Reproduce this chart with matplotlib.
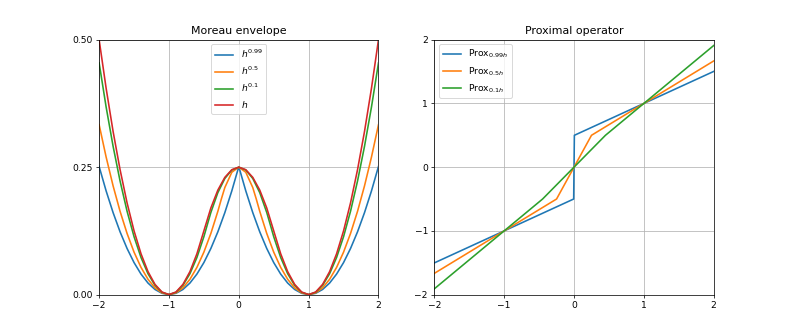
import matplotlib
matplotlib.use("Agg")
import matplotlib.pyplot as plt

# ---- Moreau envelope data ----
x_h = [-2.0, -1.9, -1.8, -1.7, -1.6, -1.5, -1.4, -1.3, -1.2, -1.1, -1.0,
       -0.9, -0.8, -0.7, -0.6, -0.5, -0.4, -0.3, -0.2, -0.1, 0.0,
       0.1, 0.2, 0.3, 0.4, 0.5, 0.6, 0.7, 0.8, 0.9, 1.0,
       1.1, 1.2, 1.3, 1.4, 1.5, 1.6, 1.7, 1.8, 1.9, 2.0]
y_h = [0.5, 0.405, 0.32, 0.245, 0.18, 0.125, 0.08, 0.045, 0.02, 0.005, 0.0,
       0.005, 0.02, 0.045, 0.08, 0.125, 0.17, 0.205, 0.23, 0.245, 0.25,
       0.245, 0.23, 0.205, 0.17, 0.125, 0.08, 0.045, 0.02, 0.005, 0.0,
       0.005, 0.02, 0.045, 0.08, 0.125, 0.18, 0.245, 0.32, 0.405, 0.5]

x_01 = [-2.0, -1.9, -1.8, -1.7, -1.6, -1.5, -1.4, -1.3, -1.2, -1.1, -1.0,
        -0.9, -0.8, -0.7, -0.6, -0.5, -0.45, -0.4, -0.3, -0.2, -0.1, 0.0,
        0.1, 0.2, 0.3, 0.4, 0.45, 0.5, 0.6, 0.7, 0.8, 0.9, 1.0,
        1.1, 1.2, 1.3, 1.4, 1.5, 1.6, 1.7, 1.8, 1.9, 2.0]
y_01 = [0.4545, 0.3682, 0.2909, 0.2227, 0.1636, 0.1136, 0.0727, 0.0409, 0.0182, 0.0045, 0.0,
        0.0045, 0.0182, 0.0409, 0.0727, 0.1136, 0.1375, 0.1611, 0.2, 0.2278, 0.2444, 0.25,
        0.2444, 0.2278, 0.2, 0.1611, 0.1375, 0.1136, 0.0727, 0.0409, 0.0182, 0.0045, 0.0,
        0.0045, 0.0182, 0.0409, 0.0727, 0.1136, 0.1636, 0.2227, 0.2909, 0.3682, 0.4545]

x_05 = [-2.0, -1.9, -1.8, -1.7, -1.6, -1.5, -1.4, -1.3, -1.2, -1.1, -1.0,
        -0.9, -0.8, -0.7, -0.6, -0.5, -0.4, -0.3, -0.25, -0.2, -0.1, 0.0,
        0.1, 0.2, 0.25, 0.3, 0.4, 0.5, 0.6, 0.7, 0.8, 0.9, 1.0,
        1.1, 1.2, 1.3, 1.4, 1.5, 1.6, 1.7, 1.8, 1.9, 2.0]
y_05 = [0.3333, 0.27, 0.2133, 0.1633, 0.12, 0.0833, 0.0533, 0.03, 0.0133, 0.0033, 0.0,
        0.0033, 0.0133, 0.03, 0.0533, 0.0833, 0.12, 0.1633, 0.1875, 0.21, 0.24, 0.25,
        0.24, 0.21, 0.1875, 0.1633, 0.12, 0.0833, 0.0533, 0.03, 0.0133, 0.0033, 0.0,
        0.0033, 0.0133, 0.03, 0.0533, 0.0833, 0.12, 0.1633, 0.2133, 0.27, 0.3333]

x_099 = [-2.0, -1.9, -1.8, -1.7, -1.6, -1.5, -1.4, -1.3, -1.2, -1.1, -1.0,
         -0.9, -0.8, -0.7, -0.6, -0.5, -0.4, -0.3, -0.2, -0.1, -0.005, 0.0,
         0.005, 0.1, 0.2, 0.3, 0.4, 0.5, 0.6, 0.7, 0.8, 0.9, 1.0,
         1.1, 1.2, 1.3, 1.4, 1.5, 1.6, 1.7, 1.8, 1.9, 2.0]
y_099 = [0.2513, 0.2035, 0.1608, 0.1231, 0.0905, 0.0628, 0.0402, 0.0226, 0.01005, 0.0025, 0.0,
         0.0025, 0.01005, 0.0226, 0.0402, 0.0628, 0.0905, 0.1231, 0.1608, 0.2035, 0.24875, 0.25,
         0.24875, 0.2035, 0.1608, 0.1231, 0.0905, 0.0628, 0.0402, 0.0226, 0.01005, 0.0025, 0.0,
         0.0025, 0.01005, 0.0226, 0.0402, 0.0628, 0.0905, 0.1231, 0.1608, 0.2035, 0.2513]

# ---- Proximal operator data (breakpoints) ----
px_099 = [-2.0, -0.005, 0.005, 2.0]
py_099 = [-1.5025, -0.5, 0.5, 1.5025]
px_05 = [-2.0, -0.25, 0.25, 2.0]
py_05 = [-1.6667, -0.5, 0.5, 1.6667]
px_01 = [-2.0, -0.45, 0.45, 2.0]
py_01 = [-1.9091, -0.5, 0.5, 1.9091]

env_ticks_x = [-2, -1, 0, 1, 2]
env_ticks_y = [0.0, 0.25, 0.5]
prox_ticks = [-2, -1, 0, 1, 2]

LW = 1.75

fig, (ax1, ax2) = plt.subplots(1, 2, figsize=(793 / 66, 331 / 66), dpi=66)

ax1.plot(x_099, y_099, lw=LW, label=r"$h^{0.99}$")
ax1.plot(x_05, y_05, lw=LW, label=r"$h^{0.5}$")
ax1.plot(x_01, y_01, lw=LW, label=r"$h^{0.1}$")
ax1.plot(x_h, y_h, lw=LW, label=r"$h$")
ax1.set_xlim(-2, 2)
ax1.set_ylim(0, 0.5)
ax1.set_xticks(env_ticks_x)
ax1.set_yticks(env_ticks_y)
ax1.grid(True)
ax1.legend(loc="upper center")
ax1.set_title("Moreau envelope")

ax2.plot(px_099, py_099, lw=LW, label=r"$\mathrm{Prox}_{0.99h}$")
ax2.plot(px_05, py_05, lw=LW, label=r"$\mathrm{Prox}_{0.5h}$")
ax2.plot(px_01, py_01, lw=LW, label=r"$\mathrm{Prox}_{0.1h}$")
ax2.set_xlim(-2, 2)
ax2.set_ylim(-2, 2)
ax2.set_xticks(prox_ticks)
ax2.set_yticks(prox_ticks)
ax2.grid(True)
ax2.legend(loc="upper left")
ax2.set_title("Proximal operator")

fig.savefig("out.png", dpi=66)
